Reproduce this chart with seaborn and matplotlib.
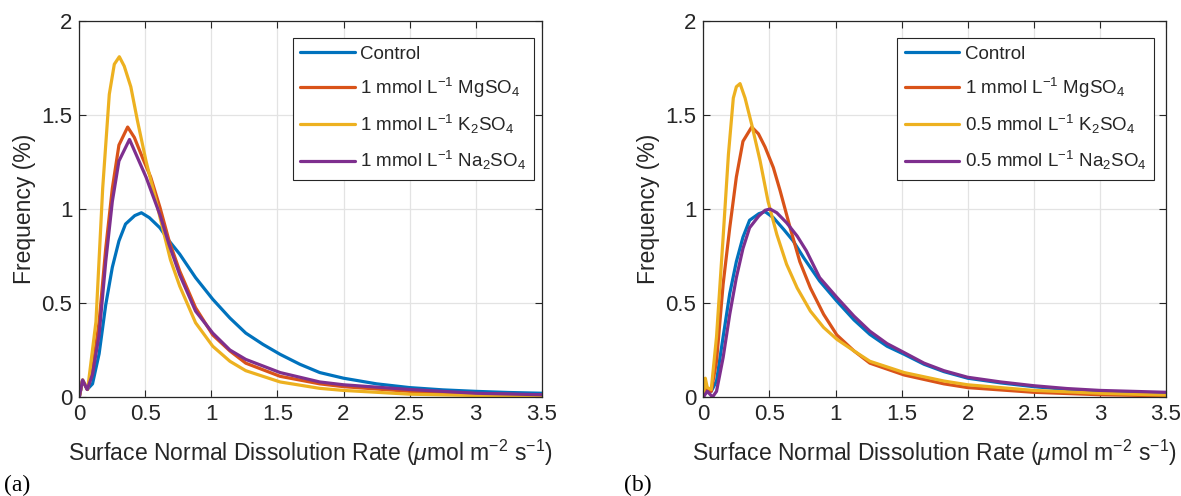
import numpy as np
import pandas as pd
import matplotlib
matplotlib.use("Agg")
import matplotlib.pyplot as plt
import seaborn as sns

# ---------------- data ----------------
# Panel (a)
a_ctrl_x = [0, 0.025, 0.06, 0.10, 0.15, 0.20, 0.25, 0.30, 0.35, 0.42, 0.47, 0.53, 0.61, 0.68, 0.76, 0.88,
            1.01, 1.14, 1.26, 1.39, 1.52, 1.67, 1.82, 2.0, 2.25, 2.5, 2.75, 3.0, 3.25, 3.5]
a_ctrl_y = [0, 0.09, 0.04, 0.07, 0.23, 0.49, 0.69, 0.83, 0.92, 0.965, 0.98, 0.954, 0.90, 0.83, 0.76, 0.635,
            0.52, 0.42, 0.34, 0.28, 0.227, 0.174, 0.13, 0.10, 0.07, 0.05, 0.038, 0.03, 0.024, 0.02]

a_mg_x = [0, 0.025, 0.06, 0.10, 0.15, 0.20, 0.25, 0.30, 0.366, 0.417, 0.48, 0.54, 0.61, 0.68, 0.76, 0.88,
          1.01, 1.14, 1.26, 1.52, 1.82, 2.0, 2.5, 3.0, 3.5]
a_mg_y = [0, 0.09, 0.04, 0.14, 0.40, 0.79, 1.11, 1.34, 1.436, 1.38, 1.27, 1.17, 1.01, 0.83, 0.67, 0.475,
          0.33, 0.245, 0.18, 0.11, 0.07, 0.055, 0.03, 0.018, 0.01]

a_k_x = [0, 0.025, 0.063, 0.126, 0.177, 0.227, 0.265, 0.303, 0.34, 0.39, 0.44, 0.505, 0.568, 0.63, 0.69,
         0.76, 0.88, 1.01, 1.14, 1.26, 1.52, 1.82, 2.0, 2.5, 3.0, 3.5]
a_k_y = [0, 0.09, 0.04, 0.40, 1.11, 1.61, 1.77, 1.81, 1.76, 1.65, 1.47, 1.255, 1.08, 0.90, 0.73,
         0.59, 0.395, 0.27, 0.19, 0.14, 0.08, 0.046, 0.035, 0.015, 0.008, 0.005]

a_na_x = [0, 0.025, 0.06, 0.10, 0.15, 0.20, 0.25, 0.30, 0.38, 0.43, 0.505, 0.61, 0.68, 0.76, 0.88,
          1.01, 1.14, 1.26, 1.52, 1.82, 2.0, 2.5, 3.0, 3.5]
a_na_y = [0, 0.09, 0.04, 0.12, 0.33, 0.72, 1.04, 1.255, 1.37, 1.29, 1.17, 0.97, 0.81, 0.65, 0.457,
          0.34, 0.25, 0.20, 0.13, 0.08, 0.065, 0.04, 0.02, 0.012]

# Panel (b)
b_ctrl_x = [0, 0.025, 0.06, 0.10, 0.15, 0.20, 0.25, 0.30, 0.35, 0.42, 0.467, 0.53, 0.61, 0.68, 0.76, 0.88,
            1.01, 1.14, 1.26, 1.39, 1.52, 1.67, 1.82, 2.0, 2.25, 2.5, 2.75, 3.0, 3.25, 3.5]
b_ctrl_y = [0, 0.04, 0.03, 0.085, 0.32, 0.55, 0.72, 0.85, 0.94, 0.975, 0.986, 0.954, 0.89, 0.83, 0.74, 0.617,
            0.51, 0.41, 0.333, 0.27, 0.227, 0.174, 0.135, 0.10, 0.075, 0.055, 0.04, 0.03, 0.024, 0.02]

b_mg_x = [0, 0.025, 0.06, 0.10, 0.15, 0.20, 0.25, 0.30, 0.366, 0.417, 0.467, 0.53, 0.58, 0.657, 0.73, 0.81,
          0.91, 1.01, 1.14, 1.26, 1.52, 1.82, 2.0, 2.5, 3.0, 3.5]
b_mg_y = [0, 0.05, 0.03, 0.19, 0.60, 0.90, 1.17, 1.36, 1.436, 1.40, 1.33, 1.22, 1.10, 0.90, 0.72, 0.58,
          0.44, 0.33, 0.245, 0.18, 0.117, 0.07, 0.05, 0.025, 0.012, 0.006]

b_k_x = [0, 0.015, 0.03, 0.06, 0.10, 0.15, 0.19, 0.227, 0.25, 0.278, 0.316, 0.366, 0.43, 0.49, 0.556, 0.63,
         0.71, 0.81, 0.91, 1.01, 1.14, 1.26, 1.52, 1.82, 2.0, 2.5, 3.0, 3.5]
b_k_y = [0, 0.10, 0.05, 0.04, 0.32, 0.85, 1.29, 1.59, 1.65, 1.667, 1.59, 1.45, 1.255, 1.04, 0.865, 0.706,
         0.58, 0.457, 0.37, 0.307, 0.245, 0.19, 0.13, 0.085, 0.065, 0.035, 0.02, 0.01]

b_na_x = [0, 0.03, 0.07, 0.10, 0.15, 0.20, 0.25, 0.30, 0.35, 0.42, 0.467, 0.505, 0.556, 0.63, 0.71, 0.78,
          0.88, 1.01, 1.14, 1.26, 1.39, 1.52, 1.67, 1.82, 2.0, 2.25, 2.5, 2.75, 3.0, 3.25, 3.5]
b_na_y = [0, 0.03, 0.0, 0.03, 0.21, 0.44, 0.635, 0.79, 0.90, 0.963, 0.993, 1.0, 0.98, 0.927, 0.856, 0.777,
          0.635, 0.53, 0.43, 0.35, 0.284, 0.236, 0.18, 0.14, 0.105, 0.08, 0.06, 0.045, 0.035, 0.03, 0.025]

labels_a = ["Control", "1 mmol L$^{-1}$ MgSO$_4$", "1 mmol L$^{-1}$ K$_2$SO$_4$", "1 mmol L$^{-1}$ Na$_2$SO$_4$"]
labels_b = ["Control", "1 mmol L$^{-1}$ MgSO$_4$", "0.5 mmol L$^{-1}$ K$_2$SO$_4$", "0.5 mmol L$^{-1}$ Na$_2$SO$_4$"]
colors = ["#0072BD", "#D95319", "#EDB120", "#7E2F8E"]
xticks = [0, 0.5, 1, 1.5, 2, 2.5, 3, 3.5]
xtick_labels = ["0", "0.5", "1", "1.5", "2", "2.5", "3", "3.5"]
yticks = [0, 0.5, 1, 1.5, 2]
ytick_labels = ["0", "0.5", "1", "1.5", "2"]
xlabel = "Surface Normal Dissolution Rate ($\\mathit{\\mu}$mol m$^{-2}$ s$^{-1}$)"
ylabel = "Frequency (%)"

# ---------------- styling ----------------
sns.set_style("ticks")
plt.rcParams["font.family"] = ["Liberation Sans", "DejaVu Sans"]
plt.rcParams["mathtext.fontset"] = "custom"
plt.rcParams["mathtext.rm"] = "Liberation Sans"
plt.rcParams["mathtext.it"] = "Liberation Sans:italic"
plt.rcParams["mathtext.default"] = "regular"

axcol = "#262626"
fig = plt.figure(figsize=(11.81, 4.96), dpi=100)
ax_a = fig.add_axes([79.3 / 1181, 99 / 496, 462.4 / 1181, 376 / 496])
ax_b = fig.add_axes([703.3 / 1181, 99 / 496, 462.7 / 1181, 376 / 496])

panels = [
    (ax_a, [(a_ctrl_x, a_ctrl_y), (a_mg_x, a_mg_y), (a_k_x, a_k_y), (a_na_x, a_na_y)], labels_a, 0.983, "(a)", 4),
    (ax_b, [(b_ctrl_x, b_ctrl_y), (b_mg_x, b_mg_y), (b_k_x, b_k_y), (b_na_x, b_na_y)], labels_b, 0.974, "(b)", 624),
]

for ax, series, labels, lx, tag, tagx in panels:
    for (xs, ys), lab, col in zip(series, labels, colors):
        df = pd.DataFrame({"x": xs, "y": ys})
        sns.lineplot(data=df, x="x", y="y", ax=ax, color=col, lw=2.3, label=lab,
                     estimator=None, sort=False)
    ax.set_xlim(0, 3.5)
    ax.set_ylim(0, 2)
    ax.set_xticks(xticks)
    ax.set_xticklabels(xtick_labels)
    ax.set_yticks(yticks)
    ax.set_yticklabels(ytick_labels)
    ax.grid(True, color="#e3e3e3", lw=0.9)
    ax.set_axisbelow(True)
    ax.tick_params(direction="in", length=5, width=0.8, colors=axcol, labelsize=16,
                   top=True, right=True, pad=5)
    for s in ax.spines.values():
        s.set_color(axcol)
        s.set_linewidth(0.9)
    ax.set_xlabel(xlabel, fontsize=16.5, color=axcol, labelpad=9)
    ax.set_ylabel(ylabel, fontsize=16.5, color=axcol, labelpad=4)
    leg = ax.legend(loc="upper right", bbox_to_anchor=(lx, 0.955), fontsize=13.5,
                    frameon=True, fancybox=False, edgecolor="#262626", framealpha=1,
                    handlelength=2.9, handletextpad=0.3, labelspacing=0.7,
                    borderpad=0.4, borderaxespad=0)
    leg.get_frame().set_linewidth(0.8)
    for t in leg.get_texts():
        t.set_color("#262626")
    fig.text(tagx / 1181, 1 - 485 / 496, tag, fontsize=17, family="Liberation Serif",
             ha="left", va="center", color="black")

fig.savefig("out.png", dpi=100)
